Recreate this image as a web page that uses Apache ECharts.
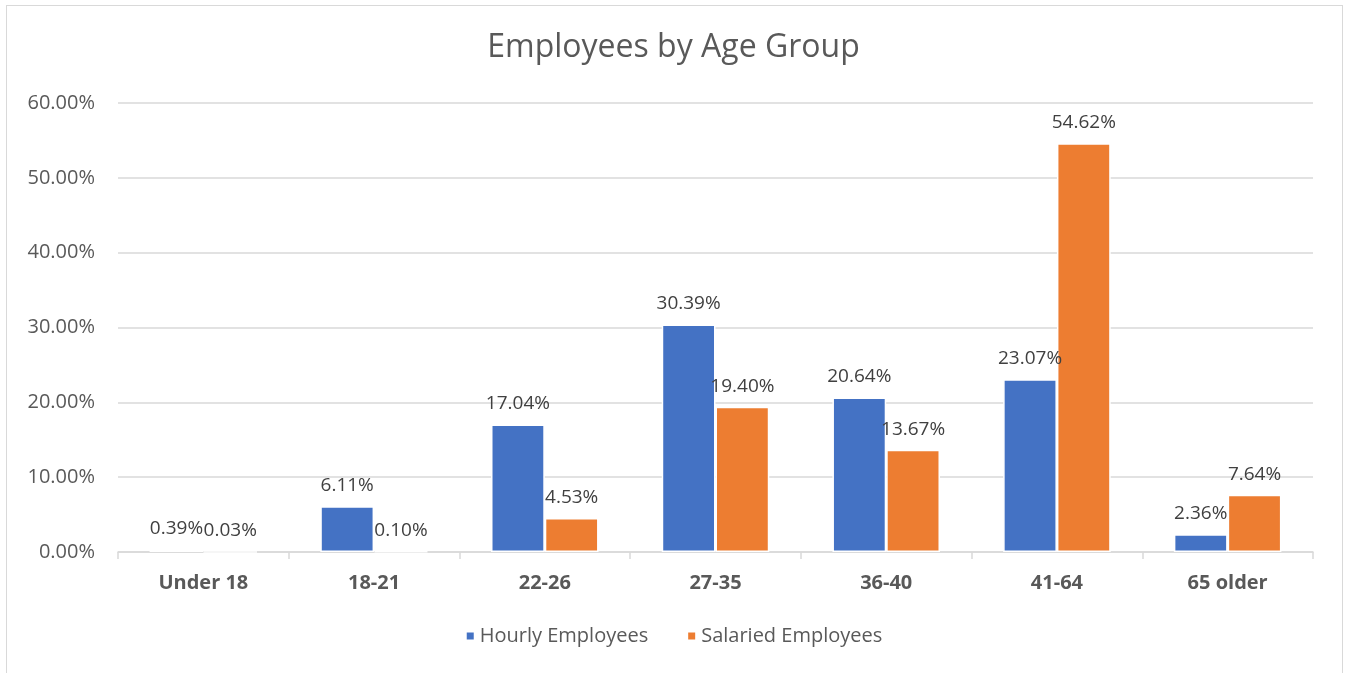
<!DOCTYPE html>
<html>
<head>
<meta charset="utf-8">
<script src="https://cdn.jsdelivr.net/npm/echarts@6/dist/echarts.min.js"></script>
<style>
	body { margin: 0; background: #fff; }
	#frame { position: absolute; left: 6px; top: 5px; width: 1335px; height: 680px; border: 1px solid #d9d9d9; }
	#chart { position: absolute; left: 0; top: 0; width: 1347px; height: 673px; }
</style>
</head>
<body>
<div id="frame"></div>
<div id="chart"></div>
<script>
var categories = ['Under 18', '18-21', '22-26', '27-35', '36-40', '41-64', '65 older'];
var hourly = [0.39, 6.11, 17.04, 30.39, 20.64, 23.07, 2.36];
var salaried = [0.03, 0.10, 4.53, 19.40, 13.67, 54.62, 7.64];
var yTicks = [0, 10, 20, 30, 40, 50, 60];

var fontName = 'Open Sans';

function makeSeries(name, values, color)
{
	return {
		name: name,
		type: 'bar',
		data: values,
		barGap: '0%',
		barCategoryGap: '37%',
		itemStyle: {
			color: color,
			borderColor: '#ffffff',
			borderWidth: 1.5
		},
		label: {
			show: true,
			position: 'top',
			distance: 11,
			color: '#404040',
			fontSize: 19,
			fontFamily: fontName,
			formatter: function (p) { return p.value.toFixed(2) + '%'; }
		}
	};
}

var dom = document.getElementById('chart');
var myChart = echarts.init(dom);

var option = {
	backgroundColor: 'transparent',
	animation: false,
	title: {
		text: 'Employees by Age Group',
		left: 'center',
		top: 27,
		textStyle: { color: '#595959', fontSize: 32, fontWeight: 'normal', fontFamily: fontName }
	},
	legend: {
		bottom: 22,
		left: 'center',
		itemWidth: 9,
		itemHeight: 9,
		itemGap: 38,
		icon: 'rect',
		textStyle: { color: '#595959', fontSize: 20, fontFamily: fontName },
		data: ['Hourly Employees', 'Salaried Employees']
	},
	grid: { left: 118, right: 34, top: 103, bottom: 121 },
	xAxis: {
		type: 'category',
		data: categories,
		axisLine: { lineStyle: { color: '#d9d9d9', width: 1.5 } },
		axisTick: { show: true, length: 7, lineStyle: { color: '#d9d9d9', width: 1.5 } },
		axisLabel: { color: '#595959', fontSize: 20, fontWeight: 'bold', fontFamily: fontName, margin: 21 }
	},
	yAxis: {
		type: 'value',
		min: yTicks[0],
		max: yTicks[yTicks.length - 1],
		interval: 10,
		axisLine: { show: false },
		axisTick: { show: false },
		splitLine: { lineStyle: { color: '#d9d9d9', width: 1.5 } },
		axisLabel: {
			color: '#595959', fontSize: 20, fontFamily: fontName, margin: 23,
			formatter: function (v) { return v.toFixed(2) + '%'; }
		}
	},
	series: [
		makeSeries('Hourly Employees', hourly, '#4472c4'),
		makeSeries('Salaried Employees', salaried, '#ed7d31')
	]
};

myChart.setOption(option, true);
</script>
</body>
</html>
